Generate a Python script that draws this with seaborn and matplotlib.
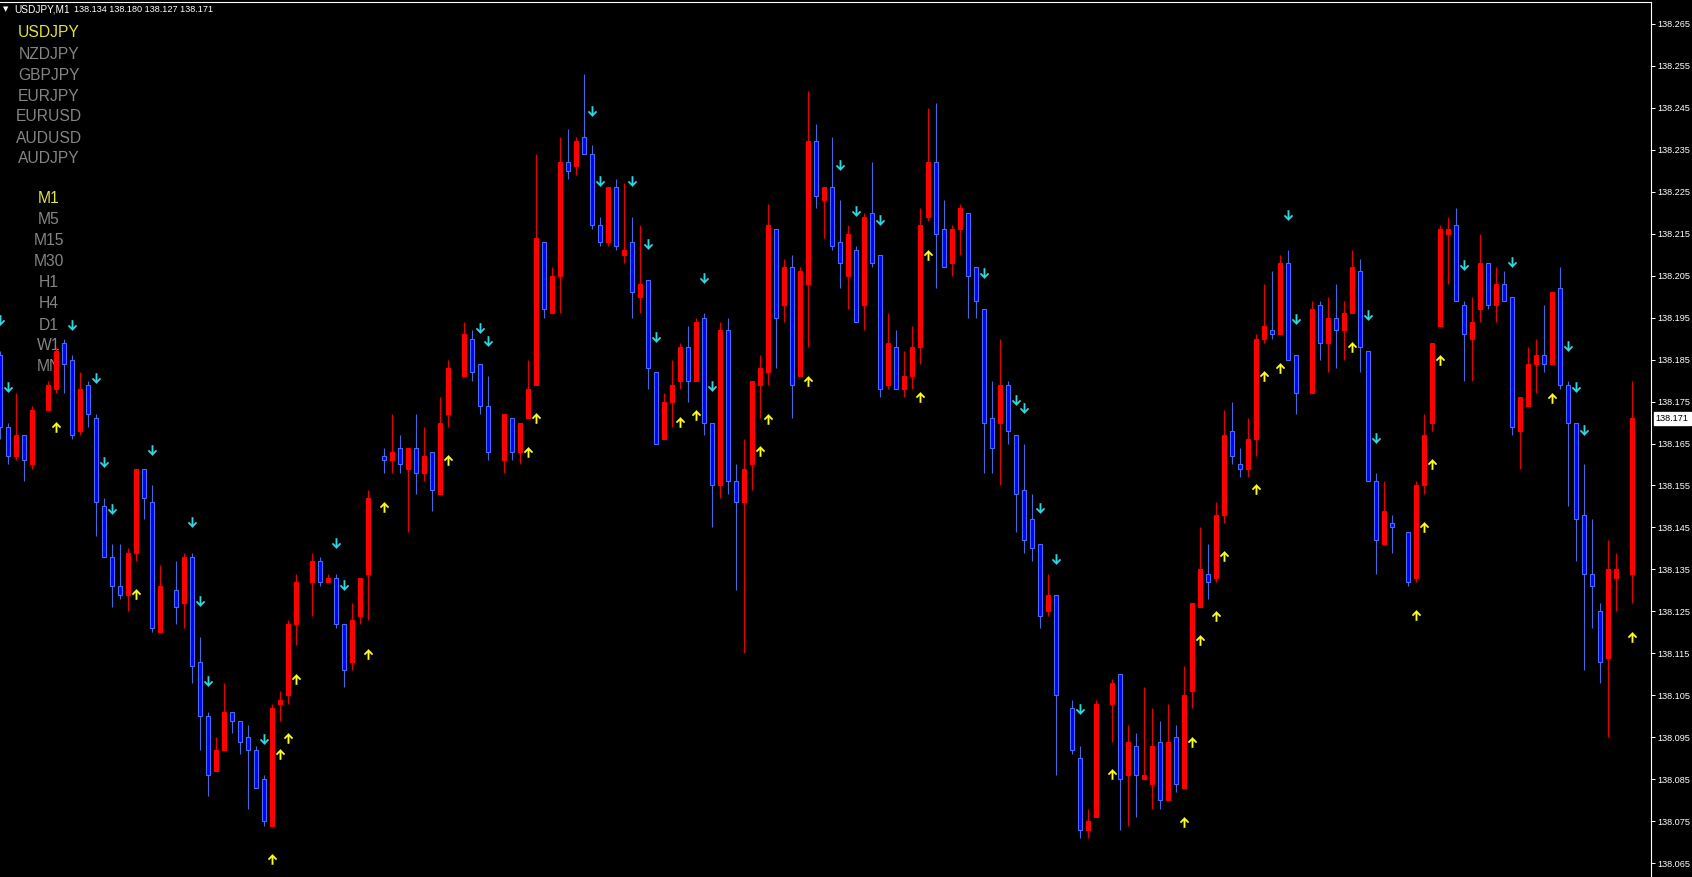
import numpy as np
import pandas as pd
import matplotlib
matplotlib.use("Agg")
import matplotlib.pyplot as plt
import seaborn as sns
from matplotlib.path import Path
from matplotlib.transforms import blended_transform_factory

nan = float("nan")

# ---------------- data ----------------
symbol_list = ["USDJPY", "NZDJPY", "GBPJPY", "EURJPY", "EURUSD", "AUDUSD", "AUDJPY"]
timeframe_list = ["M1", "M5", "M15", "M30", "H1", "H4", "D1", "W1", "MN"]
active_symbol = "USDJPY"
active_timeframe = "M1"
header_title = "USDJPY,M1"
header_quotes = "138.134 138.180 138.127 138.171"
current_price = 138.171
price_ticks = [138.065, 138.075, 138.085, 138.095, 138.105, 138.115, 138.125,
               138.135, 138.145, 138.155, 138.165, 138.175, 138.185, 138.195,
               138.205, 138.215, 138.225, 138.235, 138.245, 138.255, 138.265]

opens = [
    138.186, 138.169, 138.162, 138.167, 138.160, nan, 138.173, 138.178, 138.189, 138.185,
    138.168, 138.179, 138.171, 138.150, 138.138, 138.131, 138.129, 138.139, 138.159, 138.151,
    138.120, nan, 138.130, 138.127, 138.138, 138.113, 138.100, 138.087, 138.092, 138.101,
    138.099, 138.095, 138.092, 138.085, 138.074, 138.103, 138.105, 138.122, nan, 138.132,
    138.137, 138.132, 138.133, 138.122, 138.113, 138.124, 138.134, nan, 138.162, 138.161,
    138.164, 138.159, 138.164, 138.158, 138.163, 138.153, 138.172, nan, 138.181, 138.190,
    138.184, 138.174, nan, 138.161, 138.171, 138.163, 138.171, 138.179, 138.213, 138.196,
    138.205, 138.232, 138.231, 138.238, 138.234, 138.217, 138.213, 138.226, 138.210, 138.213,
    138.200, 138.204, 138.182, 138.166, 138.175, 138.180, 138.188, 138.180, 138.195, 138.170,
    138.155, 138.192, 138.156, 138.151, 138.160, 138.179, 138.182, 138.216, 138.198, 138.207,
    138.181, 138.203, 138.237, 138.223, 138.226, 138.213, 138.205, 138.211, 138.198, 138.220,
    138.210, 138.179, 138.188, 138.178, 138.181, 138.188, 138.219, 138.232, 138.216, 138.208,
    138.216, 138.220, 138.207, 138.197, 138.171, 138.170, 138.179, 138.167, 138.154, 138.147,
    138.141, 138.125, 138.129, nan, 138.102, 138.090, 138.073, 138.076, nan, 138.103,
    138.110, 138.086, 138.093, 138.085, 138.084, 138.094, 138.080, 138.095, 138.083, 138.106,
    138.126, 138.134, 138.133, 138.148, 138.168, 138.160, 138.159, 138.166, 138.190, 138.192,
    138.191, 138.208, 138.186, nan, 138.177, 138.198, 138.189, 138.195, 138.192, 138.196,
    138.206, 138.187, 138.156, 138.141, 138.146, nan, 138.144, 138.133, 138.155, 138.170,
    138.193, 138.215, 138.217, 138.198, 138.190, 138.197, 138.208, 138.198, 138.203, 138.200,
    138.168, 138.174, 138.184, 138.186, 138.184, 138.202, 138.179, 138.170, 138.148, 138.134,
    138.125, 138.114, 138.133, nan, 138.134]

highs = [
    138.187, 138.170, 138.177, 138.167, 138.174, nan, 138.180, 138.188, 138.190, 138.186,
    138.182, 138.180, 138.172, 138.152, 138.141, 138.141, 138.140, 138.159, 138.159, 138.155,
    138.136, nan, 138.137, 138.139, 138.139, 138.119, 138.101, 138.095, 138.108, 138.101,
    138.099, 138.098, 138.093, 138.086, 138.103, 138.106, 138.123, 138.134, nan, 138.139,
    138.138, 138.134, 138.134, 138.122, 138.127, 138.133, 138.154, nan, 138.164, 138.172,
    138.167, 138.164, 138.172, 138.169, 138.163, 138.176, 138.185, nan, 138.194, 138.192,
    138.184, 138.181, nan, 138.172, 138.171, 138.170, 138.185, 138.234, 138.213, 138.207,
    138.238, 138.240, 138.238, 138.253, 138.236, 138.219, 138.226, 138.228, 138.227, 138.219,
    138.217, 138.204, 138.182, 138.177, 138.185, 138.189, 138.193, 138.195, 138.196, 138.170,
    138.194, 138.195, 138.160, 138.166, 138.180, 138.186, 138.222, 138.216, 138.209, 138.210,
    138.207, 138.249, 138.241, 138.226, 138.238, 138.223, 138.217, 138.212, 138.220, 138.232,
    138.210, 138.196, 138.192, 138.187, 138.193, 138.221, 138.245, 138.246, 138.223, 138.217,
    138.222, 138.220, 138.207, 138.197, 138.180, 138.190, 138.180, 138.167, 138.165, 138.153,
    138.141, 138.134, 138.129, nan, 138.104, 138.093, 138.078, 138.104, nan, 138.109,
    138.110, 138.098, 138.096, 138.107, 138.102, 138.099, 138.103, 138.098, 138.112, 138.127,
    138.145, 138.141, 138.151, 138.173, 138.175, 138.164, 138.171, 138.191, 138.203, 138.206,
    138.210, 138.211, 138.186, nan, 138.199, 138.199, 138.200, 138.203, 138.199, 138.211,
    138.209, 138.187, 138.158, 138.156, 138.148, nan, 138.144, 138.156, 138.172, 138.189,
    138.217, 138.219, 138.221, 138.199, 138.200, 138.215, 138.208, 138.207, 138.206, 138.200,
    138.176, 138.188, 138.190, 138.198, 138.201, 138.207, 138.180, 138.170, 138.160, 138.147,
    138.127, 138.142, 138.139, nan, 138.180]

lows = [
    138.166, 138.160, 138.161, 138.156, 138.159, nan, 138.173, 138.177, 138.177, 138.166,
    138.167, 138.169, 138.143, 138.138, 138.126, 138.128, 138.125, 138.137, 138.147, 138.120,
    138.120, nan, 138.122, 138.121, 138.108, 138.092, 138.081, 138.087, 138.092, 138.096,
    138.091, 138.078, 138.083, 138.074, 138.074, 138.099, 138.103, 138.117, nan, 138.124,
    138.131, 138.132, 138.121, 138.107, 138.111, 138.122, 138.123, nan, 138.158, 138.158,
    138.158, 138.144, 138.153, 138.156, 138.149, 138.153, 138.169, nan, 138.181, 138.180,
    138.172, 138.161, nan, 138.158, 138.161, 138.160, 138.171, 138.179, 138.195, 138.196,
    138.196, 138.228, 138.229, 138.234, 138.216, 138.212, 138.212, 138.211, 138.208, 138.195,
    138.196, 138.178, 138.165, 138.166, 138.169, 138.178, 138.175, 138.180, 138.167, 138.145,
    138.152, 138.153, 138.130, 138.115, 138.154, 138.171, 138.179, 138.183, 138.194, 138.171,
    138.181, 138.188, 138.221, 138.214, 138.211, 138.202, 138.197, 138.194, 138.192, 138.207,
    138.176, 138.178, 138.178, 138.176, 138.178, 138.184, 138.218, 138.202, 138.207, 138.205,
    138.210, 138.195, 138.195, 138.158, 138.158, 138.155, 138.165, 138.144, 138.139, 138.137,
    138.121, 138.124, 138.086, nan, 138.091, 138.071, 138.071, 138.076, nan, 138.094,
    138.073, 138.074, 138.076, 138.085, 138.078, 138.078, 138.080, 138.082, 138.083, 138.102,
    138.126, 138.128, 138.132, 138.146, 138.160, 138.157, 138.157, 138.162, 138.189, 138.190,
    138.191, 138.185, 138.172, nan, 138.177, 138.185, 138.182, 138.183, 138.185, 138.196,
    138.182, 138.156, 138.134, 138.141, 138.139, nan, 138.131, 138.132, 138.153, 138.168,
    138.193, 138.203, 138.199, 138.180, 138.180, 138.194, 138.197, 138.194, 138.199, 138.167,
    138.159, 138.174, 138.177, 138.182, 138.184, 138.178, 138.150, 138.137, 138.111, 138.121,
    138.108, 138.095, 138.125, nan, 138.127]

closes = [
    138.169, 138.162, 138.167, 138.161, 138.173, nan, 138.179, 138.187, 138.184, 138.167,
    138.178, 138.172, 138.151, 138.138, 138.131, 138.129, 138.139, 138.159, 138.152, 138.121,
    138.131, nan, 138.126, 138.138, 138.112, 138.100, 138.086, 138.092, 138.101, 138.099,
    138.094, 138.092, 138.083, 138.075, 138.102, 138.104, 138.122, 138.132, nan, 138.137,
    138.132, 138.133, 138.122, 138.111, 138.123, 138.133, 138.152, nan, 138.161, 138.163,
    138.160, 138.164, 138.158, 138.162, 138.154, 138.170, 138.183, nan, 138.191, 138.182,
    138.174, 138.163, nan, 138.172, 138.163, 138.170, 138.178, 138.214, 138.197, 138.205,
    138.232, 138.230, 138.237, 138.234, 138.217, 138.213, 138.226, 138.212, 138.211, 138.201,
    138.203, 138.183, 138.165, 138.175, 138.179, 138.188, 138.180, 138.194, 138.170, 138.155,
    138.192, 138.156, 138.151, 138.159, 138.180, 138.183, 138.217, 138.195, 138.207, 138.179,
    138.206, 138.237, 138.224, 138.226, 138.212, 138.208, 138.215, 138.194, 138.219, 138.208,
    138.178, 138.189, 138.178, 138.181, 138.188, 138.217, 138.232, 138.215, 138.207, 138.216,
    138.221, 138.205, 138.199, 138.170, 138.164, 138.179, 138.168, 138.153, 138.142, 138.140,
    138.124, 138.129, 138.105, nan, 138.092, 138.073, 138.075, 138.103, nan, 138.108,
    138.085, 138.094, 138.086, 138.086, 138.093, 138.080, 138.094, 138.084, 138.105, 138.127,
    138.135, 138.132, 138.148, 138.167, 138.162, 138.159, 138.166, 138.190, 138.193, 138.191,
    138.208, 138.185, 138.177, nan, 138.197, 138.189, 138.195, 138.192, 138.196, 138.207,
    138.188, 138.156, 138.142, 138.149, 138.145, nan, 138.132, 138.155, 138.167, 138.189,
    138.216, 138.216, 138.199, 138.191, 138.194, 138.208, 138.198, 138.203, 138.199, 138.169,
    138.176, 138.184, 138.186, 138.184, 138.201, 138.179, 138.170, 138.147, 138.134, 138.131,
    138.113, 138.135, 138.135, nan, 138.171]

sell_arrow_bars = [0, 1, 9, 12, 13, 14, 19, 24, 25, 26, 33, 42, 43, 60, 61, 74, 75, 79,
                   81, 82, 88, 89, 105, 107, 110, 123, 127, 128, 130, 132, 135, 161, 162,
                   171, 172, 183, 189, 196, 197, 198]
sell_arrow_prices = [138.1945, 138.1784, 138.1932, 138.1805, 138.1606, 138.1494, 138.1635,
                     138.1463, 138.1275, 138.1085, 138.0945, 138.1413, 138.1314, 138.1924,
                     138.1895, 138.2443, 138.2275, 138.2276, 138.2126, 138.1904, 138.2045,
                     138.1786, 138.2313, 138.2205, 138.2182, 138.2055, 138.1754, 138.1735,
                     138.1496, 138.1376, 138.1018, 138.2195, 138.1947, 138.1955, 138.1663,
                     138.2075, 138.2083, 138.1883, 138.1785, 138.1683]

buy_arrow_bars = [7, 17, 34, 35, 36, 37, 46, 48, 56, 66, 67, 85, 87, 95, 96, 101, 115, 116,
                  139, 148, 149, 150, 152, 153, 157, 158, 160, 169, 177, 178, 179, 180, 194, 204]
buy_arrow_prices = [138.1689, 138.1291, 138.0660, 138.0911, 138.0949, 138.1089, 138.1149,
                    138.1499, 138.1611, 138.1630, 138.1710, 138.1702, 138.1719, 138.1631,
                    138.1708, 138.1800, 138.1760, 138.2099, 138.0862, 138.0749, 138.0940,
                    138.1182, 138.1239, 138.1381, 138.1541, 138.1810, 138.1831, 138.1880,
                    138.1241, 138.1450, 138.1601, 138.1850, 138.1758, 138.1189]

# ---------------- styling ----------------
BG = "#000000"
BULL_FILL, BULL_EDGE, BULL_WICK = "#FF0000", "#FF0000", "#E80000"
BEAR_FILL, BEAR_EDGE, BEAR_WICK = "#0000FF", "#4A6CF0", "#4169E1"
SELL_COLOR = "#33D6E0"
BUY_COLOR = "#FFFF1E"
MENU_GRAY = "#858585"
MENU_ACTIVE = "#E2E244"

sns.set_theme(style="dark", rc={"axes.facecolor": BG, "figure.facecolor": BG,
                                "axes.grid": False})
plt.rcParams["font.family"] = ["Liberation Sans", "DejaVu Sans"]

W, H = 1692, 877
fig = plt.figure(figsize=(W / 100, H / 100), dpi=100, facecolor=BG)
frame_right = 1651.0
frame_top = 1.7
ax = fig.add_axes([0, 0, frame_right / W, (H - frame_top) / H])
ax.set_facecolor(BG)

df = pd.DataFrame({"bar": np.arange(len(opens)), "open": opens, "high": highs,
                   "low": lows, "close": closes}).dropna()
bull = (df["close"] >= df["open"]).to_numpy()

wick_colors = np.where(bull, BULL_WICK, BEAR_WICK)
ax.vlines(df["bar"], df["low"], df["high"], colors=wick_colors, linewidth=0.8, zorder=2)

body_bottom = np.minimum(df["open"], df["close"])
body_height = np.maximum(np.abs(df["close"] - df["open"]), 0.0003)
ax.bar(df["bar"], body_height, bottom=body_bottom, width=0.52,
       color=np.where(bull, BULL_FILL, BEAR_FILL),
       edgecolor=np.where(bull, BULL_EDGE, BEAR_EDGE), linewidth=0.8, zorder=3)

# arrow markers
down_verts = [(-0.07, 0.5), (0.07, 0.5), (0.07, -0.2), (0.33, 0.05), (0.43, -0.05),
              (0.0, -0.5), (-0.43, -0.05), (-0.33, 0.05), (-0.07, -0.2), (-0.07, 0.5)]
down_path = Path(down_verts, closed=True)
up_path = Path([(x, -y) for x, y in down_verts], closed=True)

sell_df = pd.DataFrame({"bar": sell_arrow_bars, "price": sell_arrow_prices})
buy_df = pd.DataFrame({"bar": buy_arrow_bars, "price": buy_arrow_prices})
sns.scatterplot(data=sell_df, x="bar", y="price", marker=down_path, s=56,
                color=SELL_COLOR, edgecolor=SELL_COLOR, linewidth=0.2, ax=ax,
                zorder=5, legend=False)
sns.scatterplot(data=buy_df, x="bar", y="price", marker=up_path, s=56,
                color=BUY_COLOR, edgecolor=BUY_COLOR, linewidth=0.2, ax=ax,
                zorder=5, legend=False)

# scales: 8 px per bar, price scale from the right axis
px_per_001 = 41.98
y_top_price = 138.265 + (23.7 - frame_top) / px_per_001 * 0.01
y_bot_price = 138.265 - (H - 23.7) / px_per_001 * 0.01
ax.set_xlim(0, frame_right / 8.0)
ax.set_ylim(y_bot_price, y_top_price)
ax.set_xlabel("")
ax.set_ylabel("")
ax.set_xticks([])

ax.yaxis.tick_right()
ax.set_yticks(price_ticks)
ax.set_yticklabels([f"{t:.3f}" for t in price_ticks])
ax.tick_params(axis="y", colors="white", labelcolor="white", labelsize=6.6,
               length=3, width=0.7, pad=1.5, direction="out")
for side in ("left", "bottom"):
    ax.spines[side].set_visible(False)
for side in ("top", "right"):
    ax.spines[side].set_visible(True)
    ax.spines[side].set_color("white")
    ax.spines[side].set_linewidth(0.8)

# current price box
ax.annotate(f"{current_price:.3f}", xy=(1.0, current_price),
            xycoords=blended_transform_factory(ax.transAxes, ax.transData),
            xytext=(3.3, 0), textcoords="offset points", ha="left", va="center",
            fontsize=6.6, color="black", annotation_clip=False,
            bbox=dict(boxstyle="square,pad=0.22", fc="white", ec="white"), zorder=6)

# header
ft = fig.transFigure
ax.text(5.8 / W, 1 - 9.5 / H, "\u25BC", transform=ft, ha="center", va="center",
        fontsize=5.0, color="white", family="DejaVu Sans", zorder=1)
ax.text(14 / W, 1 - 12.3 / H, header_title, transform=ft, ha="left", va="baseline",
        fontsize=7.3, color="white", zorder=1)
ax.text(74 / W, 1 - 12.3 / H, header_quotes, transform=ft, ha="left", va="baseline",
        fontsize=6.6, color="white", zorder=1)

# menu lists (behind candles)
sym_y = [31.8, 53.3, 74.3, 95.3, 115.7, 137.0, 157.7]
tf_y = [197.3, 218.3, 239.3, 260.3, 281.7, 302.3, 324.0, 344.7, 365.3]
for name, yc in zip(symbol_list, sym_y):
    ax.text(48.8 / W, 1 - (yc + 5.6) / H, name, transform=ft, ha="center",
            va="baseline", fontsize=11.25,
            color=MENU_ACTIVE if name == active_symbol else MENU_GRAY, zorder=1)
for name, yc in zip(timeframe_list, tf_y):
    ax.text(48.8 / W, 1 - (yc + 5.6) / H, name, transform=ft, ha="center",
            va="baseline", fontsize=11.25,
            color=MENU_ACTIVE if name == active_timeframe else MENU_GRAY, zorder=1)

fig.savefig("out.png", dpi=100, facecolor=BG)
